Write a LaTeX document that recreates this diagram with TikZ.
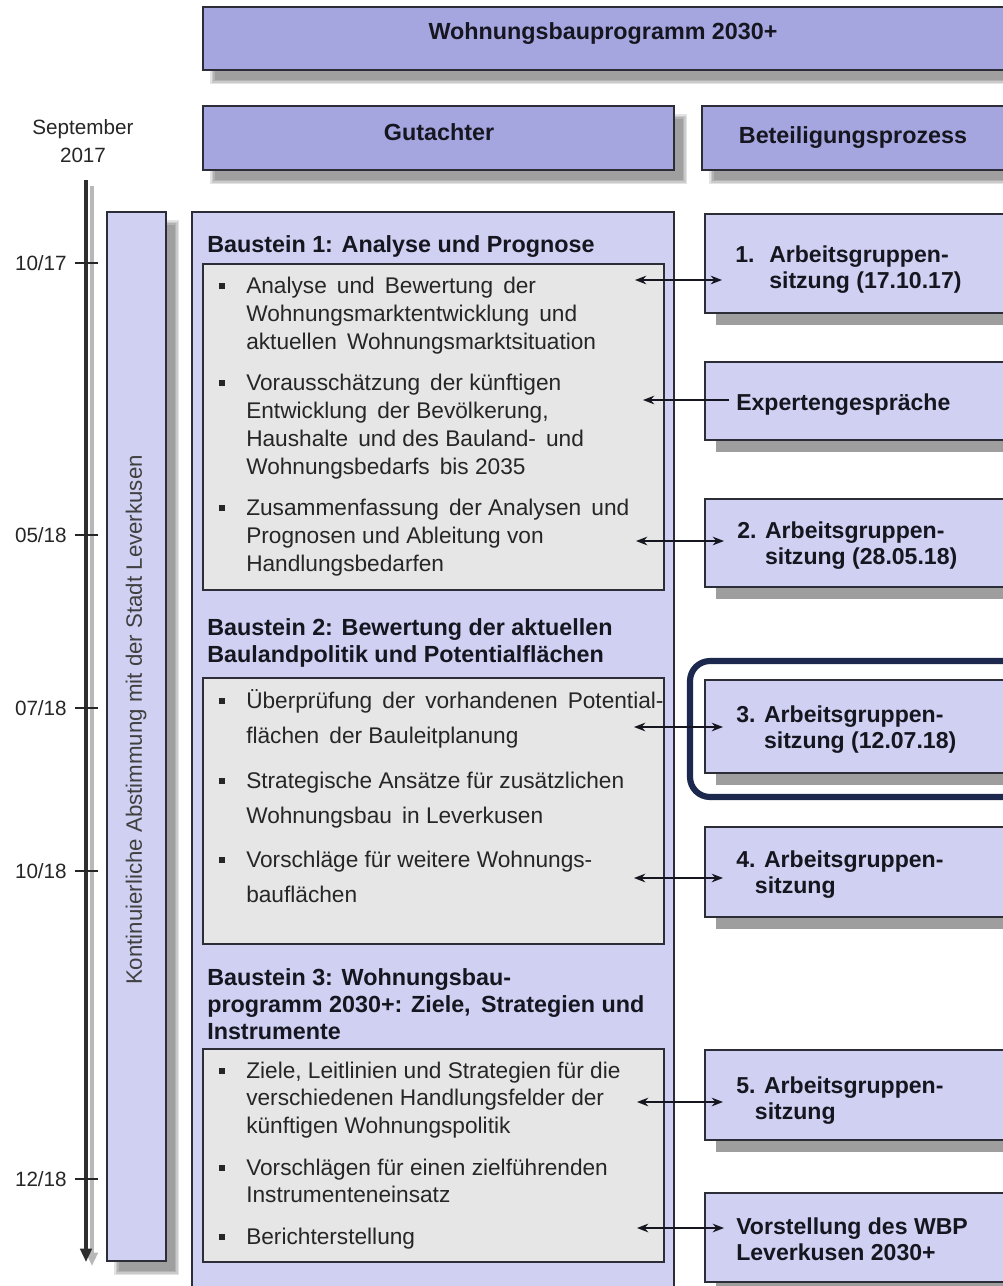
\documentclass[tikz,border=0pt]{standalone}
\usepackage{fontspec}
\setmainfont{Liberation Sans}
\usetikzlibrary{arrows.meta,fit}
\definecolor{headfill}{RGB}{165,165,224}
\definecolor{lightfill}{RGB}{208,208,242}
\definecolor{grayfill}{RGB}{230,230,230}
\definecolor{edge}{RGB}{45,45,55}
\definecolor{navy}{RGB}{28,40,78}
\definecolor{shadowgray}{RGB}{158,158,158}
\definecolor{txt}{RGB}{22,22,32}
\definecolor{bodytxt}{RGB}{38,38,38}
\newcommand\blurshadow[4]{\foreach \d in {0,1.5,3,4.5}{\fill[black,opacity=0.11] ({#1+7+\d},{#2+8+\d}) rectangle ({#3+13-\d},{#4+14-\d});}}
\tikzset{
  boxhead/.style={draw=edge,line width=0.9pt,fill=headfill,inner sep=0pt},
  boxlight/.style={draw=edge,line width=0.9pt,fill=lightfill,inner sep=0pt},
  boxgray/.style={draw=edge,line width=0.9pt,fill=grayfill,inner sep=0pt},
  headtxt/.style={anchor=base,inner sep=0pt,text=txt,font=\fontsize{17.5}{21}\selectfont\bfseries},
  titletxt/.style={anchor=north west,inner sep=0pt,align=left,text=txt,font=\fontsize{17.5}{20.25}\selectfont\bfseries},
  bodyA/.style={anchor=north west,inner sep=0pt,align=left,text=bodytxt,font=\fontsize{17}{21}\selectfont},
  bodyB/.style={anchor=north west,inner sep=0pt,align=left,text=bodytxt,font=\fontsize{17}{26.25}\selectfont},
  bodyC/.style={anchor=north west,inner sep=0pt,align=left,text=bodytxt,font=\fontsize{17}{20.6}\selectfont},
  righttxt/.style={anchor=north west,inner sep=0pt,align=left,text=txt,font=\fontsize{17.3}{19.5}\selectfont\bfseries},
  rightone/.style={anchor=base west,inner sep=0pt,text=txt,font=\fontsize{17.3}{19.5}\selectfont\bfseries},
  timetxt/.style={anchor=base east,inner sep=0pt,text=bodytxt,font=\fontsize{15.5}{21}\selectfont},
  conn/.style={line width=1.1pt,draw=txt,{Stealth[length=8.5pt,width=6.5pt]}-{Stealth[length=8.5pt,width=6.5pt]}},
  connL/.style={line width=1.1pt,draw=txt,-{Stealth[length=8.5pt,width=6.5pt]}},
}
\begin{document}
\begin{tikzpicture}[x=0.75pt,y=-0.75pt]
\clip (0,0) rectangle (1003,1286);
\fill[white] (0,0) rectangle (1003,1286);

% ---------- header boxes ----------
\blurshadow{203}{7}{1015}{70}
\node[boxhead,fit={(203,7) (1015,70)}] (title) {};
\node[headtxt] (titleT) at (603,39) {Wohnungsbauprogramm 2030+};

\blurshadow{203}{106}{674}{170}
\node[boxhead,fit={(203,106) (674,170)}] (gut) {};
\node[headtxt] (gutT) at (439,140) {Gutachter};

\blurshadow{702}{106}{1015}{170}
\node[boxhead,fit={(702,106) (1015,170)}] (bet) {};
\node[headtxt] (betT) at (853,143) {Beteiligungsprozess};

% ---------- timeline ----------
\node[anchor=north,inner sep=0pt,align=center,text=bodytxt,font=\fontsize{15.5}{21}\selectfont] (sept) at (83,115) {\strut September\\2017};
\coordinate (tlsA) at (92,186);
\coordinate (tlsB) at (92,1266);
\draw[line width=2.4pt,draw=black!28,-{Triangle[length=10pt,width=8.5pt]}] (tlsA) -- (tlsB);
\coordinate (tlA) at (86,180);
\coordinate (tlB) at (86,1262);
\draw[line width=2.6pt,draw=black!82,-{Triangle[length=10pt,width=8.5pt]}] (tlA) -- (tlB);
\foreach \yy/\lab in {263/10\slash 17,535/05\slash 18,708/07\slash 18,871/10\slash 18,1179/12\slash 18}{
  \draw[line width=1.9pt,draw=black!85] (75,\yy) -- (98,\yy);
  \node[timetxt] at (67,\yy+7.4) {\lab};
}

% ---------- vertical box ----------
\blurshadow{107}{212}{166}{1261}
\node[boxlight,fit={(107,212) (166,1261)}] (vert) {};
\node[rotate=90,inner sep=0pt,text=black!75,font=\fontsize{16.7}{20}\selectfont] (vertT) at (136,720) {Kontinuierliche Abstimmung mit der Stadt Leverkusen};

% ---------- Gutachter column ----------
\node[boxlight,fit={(192,212) (674,1300)}] (gcol) {};

\node[titletxt] (b1T) at (207,233.7) {\strut Baustein 1: Analyse und Prognose};
\node[boxgray,fit={(203,264) (664,590)}] (in1) {};
\foreach \yy in {293,390,515}{\fill[black!85] (219,\yy-10) rectangle (225,\yy-4);}
\node[bodyA] (b1a) at (246,273.4) {\strut Analyse\, und\, Bewertung\, der\\Wohnungsmarktentwicklung\, und\\aktuellen\, Wohnungsmarktsituation};
\node[bodyA] (b1b) at (246,370.4) {\strut Vorausschätzung\, der künftigen\\Entwicklung\, der Bevölkerung,\\Haushalte\, und des Bauland-\, und\\Wohnungsbedarfs\, bis 2035};
\node[bodyA] (b1c) at (246,495.4) {\strut Zusammenfassung\, der Analysen\, und\\Prognosen und Ableitung von\\Handlungsbedarfen};

\node[titletxt] (b2T) at (207,616.1) {\strut Baustein 2: Bewertung der aktuellen\\Baulandpolitik und Potentialflächen};
\node[boxgray,fit={(203,678) (664,944)}] (in2) {};
\foreach \yy in {708,788,867}{\fill[black!85] (219,\yy-10) rectangle (225,\yy-4);}
\node[bodyB] (b2a) at (246,683.5) {\strut \makebox[313pt][s]{Überprüfung der vorhandenen Potential-}\\flächen\, der Bauleitplanung};
\node[bodyB] (b2b) at (246,763.5) {\strut Strategische Ansätze für zusätzlichen\\Wohnungsbau\, in Leverkusen};
\node[bodyB] (b2c) at (246,842.5) {\strut Vorschläge für weitere Wohnungs-\\bauflächen};

\node[titletxt] (b3T) at (207,966.1) {\strut Baustein 3: Wohnungsbau-\\programm 2030+: Ziele,\, Strategien und\\Instrumente};
\node[boxgray,fit={(203,1049) (664,1262)}] (in3) {};
\foreach \yy in {1078,1175,1244}{\fill[black!85] (219,\yy-10) rectangle (225,\yy-4);}
\node[bodyC] (b3a) at (246,1058.75) {\strut Ziele, Leitlinien und Strategien für die\\verschiedenen Handlungsfelder der\\künftigen Wohnungspolitik};
\node[bodyC] (b3b) at (246,1155.75) {\strut Vorschlägen für einen zielführenden\\Instrumenteneinsatz};
\node[bodyC] (b3c) at (246,1224.75) {\strut Berichterstellung};

% ---------- right boxes ----------
\foreach \ya/\yb in {214/313,362/440,499/587,680/773,827/917,1050/1140,1193/1282}{
  \fill[shadowgray] (716,\ya+12) rectangle (1015,\yb+12);
}
\node[boxlight,fit={(705,214) (1015,313)}] (r1) {};
\node[boxlight,fit={(705,362) (1015,440)}] (rexp) {};
\node[boxlight,fit={(705,499) (1015,587)}] (r2) {};
\node[boxlight,fit={(705,680) (1015,773)}] (r3) {};
\node[boxlight,fit={(705,827) (1015,917)}] (r4) {};
\node[boxlight,fit={(705,1050) (1015,1140)}] (r5) {};
\node[boxlight,fit={(705,1193) (1015,1282)}] (r6) {};

\node[rightone] (r1n) at (735,262) {1.};
\node[righttxt] (r1T) at (769,243.8) {\strut Arbeitsgruppen-\\sitzung (17.10.17)};
\node[rightone] (rexpT) at (736,410) {Expertengespräche};
\node[righttxt] (r2T) at (737,519.8) {\strut 2. Arbeitsgruppen-\\\phantom{2. }sitzung (28.05.18)};
\node[righttxt] (r3T) at (736,703.8) {\strut 3. Arbeitsgruppen-\\\phantom{3. }sitzung (12.07.18)};
\node[righttxt] (r4T) at (736,848.8) {\strut 4. Arbeitsgruppen-\\\hspace*{14pt}sitzung};
\node[righttxt] (r5T) at (736,1074.8) {\strut 5. Arbeitsgruppen-\\\hspace*{14pt}sitzung};
\node[righttxt] (r6T) at (736,1215.8) {\strut Vorstellung des WBP\\Leverkusen 2030+};

% highlight
\node[draw=navy,line width=4.6pt,rounded corners=15pt,inner sep=0pt,fit={(690,661) (1040,797)}] (hl) {};

% ---------- connectors ----------
\coordinate (c1l) at (635,280);  \coordinate (c1r) at (722,280);
\coordinate (cel) at (643,400);  \coordinate (cer) at (729,400);
\coordinate (c2l) at (636,541);  \coordinate (c2r) at (724,541);
\coordinate (c3l) at (634,727);  \coordinate (c3r) at (723,727);
\coordinate (c4l) at (634,878);  \coordinate (c4r) at (723,878);
\coordinate (c5l) at (637,1102); \coordinate (c5r) at (723,1102);
\coordinate (c6l) at (637,1228); \coordinate (c6r) at (724,1228);
\draw[conn] (c1l) -- (c1r);
\draw[connL] (cer) -- (cel);
\draw[conn] (c2l) -- (c2r);
\draw[conn] (c3l) -- (c3r);
\draw[conn] (c4l) -- (c4r);
\draw[conn] (c5l) -- (c5r);
\draw[conn] (c6l) -- (c6r);
\end{tikzpicture}
\end{document}
